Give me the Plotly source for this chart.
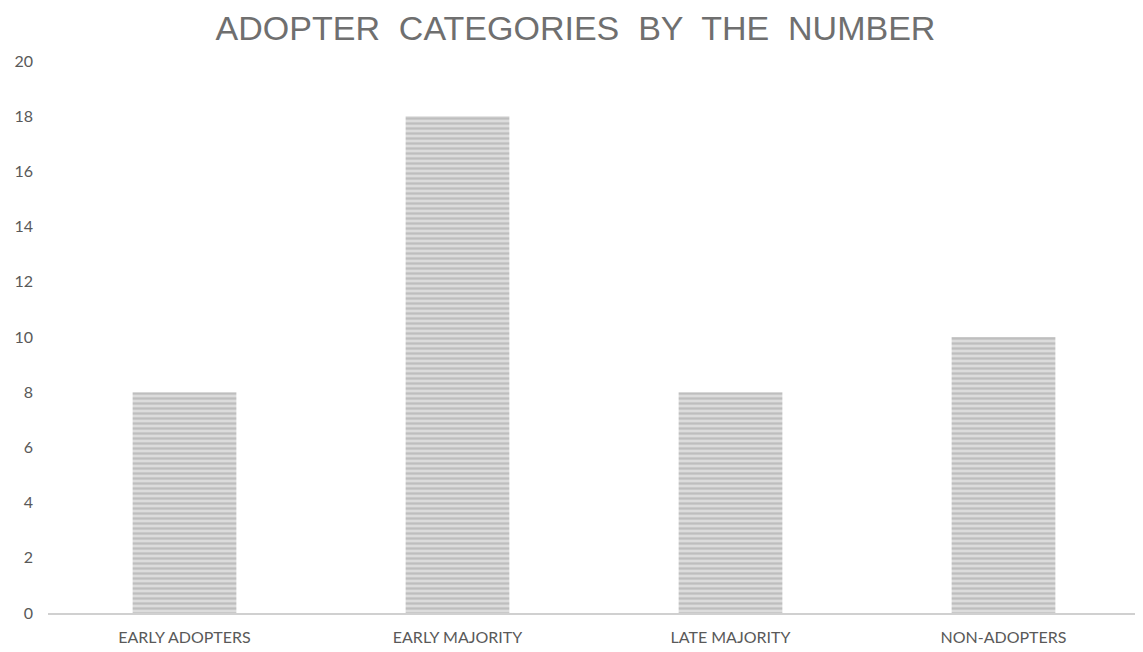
import plotly.graph_objects as go

categories = ["EARLY ADOPTERS", "EARLY MAJORITY", "LATE MAJORITY", "NON-ADOPTERS"]
counts = [8, 18, 8, 10]
y_ticks = [0, 2, 4, 6, 8, 10, 12, 14, 16, 18, 20]

fig = go.Figure(
    go.Bar(
        x=categories,
        y=counts,
        width=0.38,
        marker=dict(
            color="#dcdcdc",
            line=dict(width=0),
            pattern=dict(shape="-", fgcolor="#a0a0a0", bgcolor="#dcdcdc", size=5, solidity=0.45),
        ),
    )
)

# page body adds an 8px offset, so the figure is a bit smaller than the window
fig.update_layout(
    width=1135,
    height=644,
    paper_bgcolor="white",
    plot_bgcolor="white",
    margin=dict(l=40, r=3, t=53, b=39),
    title=dict(
        text="ADOPTER  CATEGORIES  BY  THE  NUMBER",
        x=0.5,
        xanchor="center",
        y=0.969,
        yanchor="middle",
        font=dict(family="Liberation Sans", size=34, color="#6f6f6f"),
    ),
    showlegend=False,
)

fig.update_xaxes(
    showgrid=False,
    showline=True,
    linecolor="#d0d0d0",
    linewidth=2,
    ticks="",
    ticklabelstandoff=9,
    tickfont=dict(family="Lato", size=16, color="#595959"),
)
fig.update_yaxes(
    range=[0, 20],
    tickvals=y_ticks,
    showgrid=False,
    zeroline=False,
    showline=False,
    ticks="",
    ticklabelstandoff=14,
    tickfont=dict(family="Lato", size=16, color="#595959"),
)

fig.write_html("out.html")
